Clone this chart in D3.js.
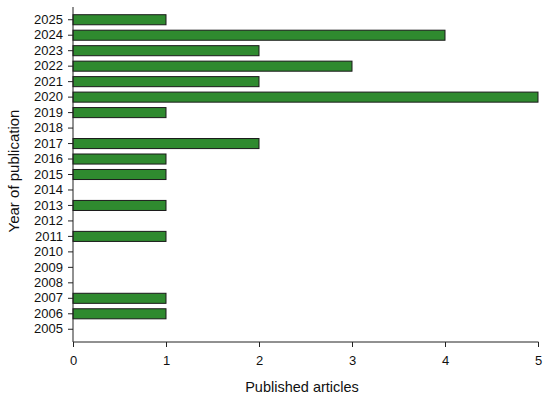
<!DOCTYPE html>
<html>
<head>
<meta charset="utf-8">
<script src="https://cdn.jsdelivr.net/npm/d3@7"></script>
<style>
  body { margin: 0; background: #fff; }
  svg { font-family: "Liberation Sans", Arial, sans-serif; }
  .axis text { font-size: 13px; fill: #111; font-family: "Liberation Sans", Arial, sans-serif; }
  .axis line, .axis path { stroke: #222; }
</style>
</head>
<body>
<div id="chart"></div>
<script>
// data
var years = ["2005","2006","2007","2008","2009","2010","2011","2012","2013","2014","2015",
             "2016","2017","2018","2019","2020","2021","2022","2023","2024","2025"];
var articles = [0,1,1,0,0,0,1,0,1,0,1,1,2,0,1,5,2,3,2,4,1];
var xTicks = [0,1,2,3,4,5];

var width = 550, height = 400;
var plotLeft = 73, plotRight = 538, plotTop = 12, plotBottom = 337;

var svg = d3.select("#chart").append("svg")
  .attr("width", width)
  .attr("height", height);

var x = d3.scaleLinear().domain([0, 5]).range([plotLeft, plotRight]);
var y = d3.scaleBand().domain(years.slice().reverse()).range([plotTop, plotBottom])
  .paddingInner(0.35).paddingOuter(0.175);

var rows = years.map(function (d, i) { return { year: d, n: articles[i] }; });

// bars
svg.selectAll(".bar")
  .data(rows.filter(function (d) { return d.n > 0; }))
  .enter().append("rect")
  .attr("class", "bar")
  .attr("x", x(0))
  .attr("y", function (d) { return y(d.year); })
  .attr("width", function (d) { return x(d.n) - x(0); })
  .attr("height", y.bandwidth())
  .attr("fill", "#2f8a2f")
  .attr("stroke", "#1a1a1a")
  .attr("stroke-width", 1);

// x axis
var xAxis = svg.append("g")
  .attr("class", "axis")
  .attr("transform", "translate(0,342)")
  .call(d3.axisBottom(x).tickValues(xTicks).tickFormat(d3.format("d")).tickSize(5).tickSizeOuter(0));
xAxis.select(".domain").attr("d", "M" + plotLeft + ",0H" + (plotRight + 0.5));
xAxis.selectAll("text").attr("dy", "1.15em");

// y axis
var yAxis = svg.append("g")
  .attr("class", "axis")
  .attr("transform", "translate(" + plotLeft + ",0)")
  .call(d3.axisLeft(y).tickSize(5).tickSizeOuter(0));
yAxis.select(".domain").attr("d", "M0,7V342");
yAxis.selectAll("text").attr("x", -10);

// titles
svg.append("text")
  .attr("x", 302).attr("y", 392)
  .attr("text-anchor", "middle")
  .style("font-size", "14.5px")
  .attr("fill", "#111")
  .text("Published articles");

svg.append("text")
  .attr("transform", "translate(19,171) rotate(-90)")
  .attr("text-anchor", "middle")
  .style("font-size", "15px")
  .attr("fill", "#111")
  .text("Year of publication");
</script>
</body>
</html>
